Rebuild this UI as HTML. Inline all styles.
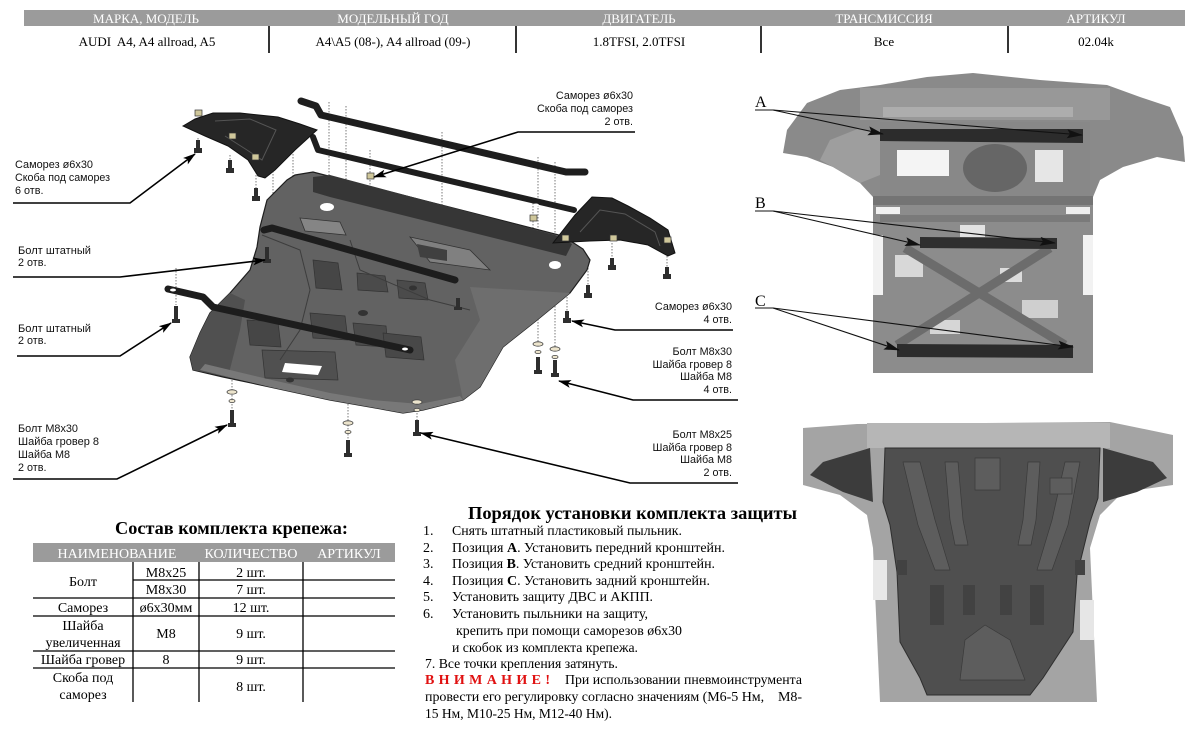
<!DOCTYPE html>
<html><head><meta charset="utf-8"><style>
html,body{margin:0;padding:0;background:#fff;}
svg{display:block;}
.s{font-family:"Liberation Serif",serif;}
.a{font-family:"Liberation Sans",sans-serif;font-size:10.8px;fill:#111;}
.d{stroke:#7a7a7a;stroke-width:1;stroke-dasharray:1.5,1.5;fill:none;}
.ld{stroke:#000;stroke-width:1.6;fill:none;}
.lp{stroke:#111;stroke-width:1.1;fill:none;}
</style></head><body>
<svg width="1200" height="732" viewBox="0 0 1200 732" xmlns="http://www.w3.org/2000/svg">
<defs>
<marker id="ar" markerUnits="userSpaceOnUse" markerWidth="13" markerHeight="8" refX="12" refY="4" orient="auto"><path d="M0,0 L13,4 L0,8 L3,4 z" fill="#000"/></marker>
<marker id="ar2" markerUnits="userSpaceOnUse" markerWidth="16" markerHeight="9" refX="15" refY="4.5" orient="auto"><path d="M0,0 L16,4.5 L0,9 L3,4.5 z" fill="#111"/></marker>
</defs>

<!-- HEADER -->
<rect x="24" y="10" width="1161" height="16" fill="#9b9b9b"/>
<g class="s" font-size="13" fill="#fff" text-anchor="middle">
<text x="146" y="23">МАРКА, МОДЕЛЬ</text>
<text x="393" y="23">МОДЕЛЬНЫЙ ГОД</text>
<text x="639" y="23">ДВИГАТЕЛЬ</text>
<text x="884" y="23">ТРАНСМИССИЯ</text>
<text x="1096" y="23">АРТИКУЛ</text>
</g>
<g class="s" font-size="13" fill="#000" text-anchor="middle">
<text x="147" y="46" xml:space="preserve">AUDI  A4, A4 allroad, A5</text>
<text x="393" y="46">A4\A5 (08-), A4 allroad (09-)</text>
<text x="639" y="46">1.8TFSI, 2.0TFSI</text>
<text x="884" y="46">Все</text>
<text x="1096" y="46">02.04k</text>
</g>
<g stroke="#000" stroke-width="1.6">
<line x1="269" y1="26" x2="269" y2="53"/>
<line x1="516" y1="26" x2="516" y2="53"/>
<line x1="761" y1="26" x2="761" y2="53"/>
<line x1="1008" y1="26" x2="1008" y2="53"/>
</g>

<!-- DOTTED FASTENER LINES -->
<g class="d">
<line x1="329" y1="102" x2="329" y2="230"/>
<line x1="346" y1="106" x2="346" y2="232"/>
<line x1="293" y1="133" x2="293" y2="178"/>
<line x1="273" y1="168" x2="273" y2="215"/>
<line x1="198" y1="138" x2="198" y2="150"/>
<line x1="230" y1="155" x2="230" y2="170"/>
<line x1="256" y1="172" x2="256" y2="195"/>
<line x1="442" y1="132" x2="442" y2="236"/>
<line x1="538" y1="157" x2="538" y2="345"/>
<line x1="555" y1="162" x2="555" y2="350"/>
<line x1="567" y1="225" x2="567" y2="312"/>
<line x1="588" y1="262" x2="588" y2="290"/>
<line x1="612" y1="243" x2="612" y2="262"/>
<line x1="667" y1="253" x2="667" y2="272"/>
<line x1="417" y1="260" x2="417" y2="420"/>
<line x1="176" y1="268" x2="176" y2="305"/>
<line x1="232" y1="293" x2="232" y2="410"/>
<line x1="348" y1="323" x2="348" y2="440"/>
<line x1="310" y1="237" x2="310" y2="300"/>
<line x1="458" y1="267" x2="458" y2="302"/>
<line x1="370" y1="150" x2="370" y2="186"/>
<line x1="533" y1="200" x2="533" y2="230"/>
</g>

<!-- UPPER BARS -->
<polyline points="301,101 316,106 321,115 566,172 585,172" stroke="#1e1e1e" stroke-width="7" fill="none" stroke-linejoin="round" stroke-linecap="round"/>
<polyline points="313,137 318,150 574,210" stroke="#1e1e1e" stroke-width="6" fill="none" stroke-linejoin="round" stroke-linecap="round"/>
<ellipse cx="400" cy="180" rx="3" ry="1.5" fill="#fff"/>
<ellipse cx="536" cy="205" rx="3" ry="1.5" fill="#fff"/>

<!-- LEFT BRACKET -->
<polygon points="183,126 195,119 213,113 240,113 278,117 300,124 317,130 295,150 275,170 265,178 258,176 248,160 228,146 205,136" fill="#262626" stroke="#111" stroke-width="1"/>
<polyline points="215,121 250,119 276,130 262,160 247,150 225,136" stroke="#555" stroke-width="1" fill="none"/>

<!-- MAIN PLATE -->
<polygon points="295,175 313,172 367,186 563,236 583,249 590,260 587,270 570,293 537,320 503,347 480,387 463,400 423,410 403,413 370,407 330,400 270,387 223,377 193,370 190,357 200,333 210,313 230,293 250,270 257,247 260,227 267,200 287,180" fill="#626262" stroke="#1e1e1e" stroke-width="1.2"/>
<polygon points="190,357 200,333 210,313 230,293 245,300 240,330 228,377 193,370" fill="#505050"/>
<polygon points="470,287 570,293 537,320 503,347 480,387 463,400 455,360 480,320" fill="#6e6e6e"/>
<polygon points="313,177 330,175 555,235 572,244 566,256 550,252 330,197 313,192" fill="#363636"/>
<polygon points="300,218 340,222 346,235 305,231" fill="#858585" stroke="#333" stroke-width="0.8"/>
<ellipse cx="327" cy="207" rx="7" ry="4" fill="#fff"/>
<ellipse cx="555" cy="265" rx="6" ry="4" fill="#fff"/>
<polygon points="410,237 470,250 490,270 430,262" fill="#808080" stroke="#333" stroke-width="0.8"/>
<polygon points="417,244 447,250 447,261 420,257" fill="#404040"/>
<polygon points="313,260 338,263 342,290 316,288" fill="#464646" stroke="#333" stroke-width="0.7"/>
<polygon points="357,273 385,276 388,292 358,290" fill="#4b4b4b" stroke="#333" stroke-width="0.7"/>
<polygon points="397,280 425,283 428,300 399,298" fill="#4b4b4b" stroke="#333" stroke-width="0.7"/>
<polygon points="247,320 278,322 281,347 250,345" fill="#464646" stroke="#333" stroke-width="0.7"/>
<polygon points="310,313 345,316 348,340 313,338" fill="#4a4a4a" stroke="#333" stroke-width="0.7"/>
<polygon points="353,323 386,326 388,347 356,345" fill="#4b4b4b" stroke="#333" stroke-width="0.7"/>
<polygon points="383,333 421,337 424,360 386,357" fill="#484848" stroke="#333" stroke-width="0.7"/>
<polygon points="262,350 335,352 338,380 265,378" fill="#505050" stroke="#333" stroke-width="0.7"/>
<polygon points="285,363 322,366 318,375 282,372" fill="#fff"/>
<polygon points="200,370 270,387 330,400 370,407 403,413 423,410 463,400 460,396 420,404 372,400 330,393 272,380 205,364" fill="#787878"/>
<ellipse cx="363" cy="313" rx="5" ry="3" fill="#333"/>
<ellipse cx="413" cy="288" rx="4" ry="2.5" fill="#333"/>
<ellipse cx="290" cy="380" rx="4" ry="2.5" fill="#333"/>
<polyline points="262,235 300,250 310,290 300,330 280,360" stroke="#3d3d3d" stroke-width="1" fill="none"/>
<polyline points="350,240 360,270 430,300 470,310" stroke="#3d3d3d" stroke-width="1" fill="none"/>

<!-- PLATE BARS -->
<polyline points="264,230 272,228 455,280" stroke="#1d1d1d" stroke-width="7" fill="none" stroke-linejoin="round" stroke-linecap="round"/>
<polyline points="168,289 203,297 213,307 410,350" stroke="#1d1d1d" stroke-width="7" fill="none" stroke-linejoin="round" stroke-linecap="round"/>
<ellipse cx="173" cy="290" rx="3" ry="1.5" fill="#fff"/>
<ellipse cx="405" cy="349" rx="3" ry="1.5" fill="#fff"/>

<!-- RIGHT BRACKET -->
<polygon points="553,243 575,215 592,197 612,198 628,206 650,218 668,230 675,253 668,256 648,245 620,240 590,241" fill="#262626" stroke="#111" stroke-width="1"/>
<polyline points="580,232 600,210 625,214 655,232 660,246" stroke="#555" stroke-width="1" fill="none"/>

<!-- CLIPS -->
<g fill="#cfc79a" stroke="#333" stroke-width="0.7">
<rect x="367" y="173" width="7" height="6"/>
<rect x="530" y="215" width="7" height="6"/>
<rect x="195" y="110" width="7" height="6"/>
<rect x="229" y="133" width="7" height="6"/>
<rect x="252" y="154" width="7" height="6"/>
<rect x="562" y="235" width="7" height="6"/>
<rect x="610" y="235" width="7" height="6"/>
<rect x="664" y="237" width="7" height="6"/>
</g>

<!-- BOLTS / SCREWS -->
<g fill="#2e2e2e">
<rect x="196" y="140" width="4" height="10"/><rect x="194" y="148" width="8" height="5"/>
<rect x="228" y="160" width="4" height="10"/><rect x="226" y="168" width="8" height="5"/>
<rect x="254" y="188" width="4" height="10"/><rect x="252" y="196" width="8" height="5"/>
<rect x="174" y="306" width="4" height="14"/><rect x="172" y="319" width="8" height="4"/>
<rect x="265" y="247" width="4" height="13"/><rect x="263" y="259" width="8" height="4"/>
<rect x="230" y="410" width="4" height="14"/><rect x="228" y="423" width="8" height="4"/>
<rect x="346" y="440" width="4" height="14"/><rect x="344" y="453" width="8" height="4"/>
<rect x="415" y="420" width="4" height="13"/><rect x="413" y="432" width="8" height="4"/>
<rect x="536" y="357" width="4" height="14"/><rect x="534" y="370" width="8" height="4"/>
<rect x="553" y="360" width="4" height="14"/><rect x="551" y="373" width="8" height="4"/>
<rect x="565" y="311" width="4" height="8"/><rect x="563" y="318" width="8" height="5"/>
<rect x="586" y="285" width="4" height="9"/><rect x="584" y="293" width="8" height="5"/>
<rect x="610" y="258" width="4" height="8"/><rect x="608" y="265" width="8" height="5"/>
<rect x="665" y="267" width="4" height="8"/><rect x="663" y="274" width="8" height="5"/>
<rect x="456" y="298" width="4" height="10"/><rect x="454" y="307" width="8" height="3"/>
</g>
<g fill="#ece4cc" stroke="#444" stroke-width="0.8">
<ellipse cx="232" cy="392" rx="5" ry="2.2"/><ellipse cx="232" cy="401" rx="3" ry="1.6"/>
<ellipse cx="348" cy="423" rx="5" ry="2.2"/><ellipse cx="348" cy="432" rx="3" ry="1.6"/>
<ellipse cx="417" cy="402" rx="5" ry="2.2"/><ellipse cx="417" cy="410" rx="3" ry="1.6"/>
<ellipse cx="538" cy="344" rx="5" ry="2.2"/><ellipse cx="538" cy="352" rx="3" ry="1.6"/>
<ellipse cx="555" cy="349" rx="5" ry="2.2"/><ellipse cx="555" cy="357" rx="3" ry="1.6"/>
</g>

<!-- LEADER LINES -->
<polyline class="ld" points="13,203 130,203 195,154" marker-end="url(#ar)"/>
<polyline class="ld" points="13,277 120,277 265,260" marker-end="url(#ar)"/>
<polyline class="ld" points="17,356 120,356 171,323" marker-end="url(#ar)"/>
<polyline class="ld" points="13,479 117,479 227,425" marker-end="url(#ar)"/>
<polyline class="ld" points="635,132 518,132 374,177" marker-end="url(#ar)"/>
<polyline class="ld" points="733,330 615,330 572,321" marker-end="url(#ar)"/>
<polyline class="ld" points="738,400 633,400 559,381" marker-end="url(#ar)"/>
<polyline class="ld" points="738,483 630,483 421,433" marker-end="url(#ar)"/>

<!-- LEFT LABELS -->
<text class="a" x="15" y="168" textLength="78" lengthAdjust="spacingAndGlyphs">Саморез ø6x30</text>
<text class="a" x="15" y="181" textLength="95" lengthAdjust="spacingAndGlyphs">Скоба под саморез</text>
<text class="a" x="15" y="194">6 отв.</text>
<text class="a" x="18" y="254" textLength="73" lengthAdjust="spacingAndGlyphs">Болт штатный</text>
<text class="a" x="18" y="266">2 отв.</text>
<text class="a" x="18" y="332" textLength="73" lengthAdjust="spacingAndGlyphs">Болт штатный</text>
<text class="a" x="18" y="344">2 отв.</text>
<text class="a" x="18" y="432" textLength="60" lengthAdjust="spacingAndGlyphs">Болт M8x30</text>
<text class="a" x="18" y="445" textLength="81" lengthAdjust="spacingAndGlyphs">Шайба гровер 8</text>
<text class="a" x="18" y="458" textLength="52" lengthAdjust="spacingAndGlyphs">Шайба M8</text>
<text class="a" x="18" y="471">2 отв.</text>

<!-- RIGHT LABELS -->
<g class="a" text-anchor="end">
<text x="633" y="99">Саморез ø6x30</text>
<text x="633" y="112">Скоба под саморез</text>
<text x="633" y="125">2 отв.</text>
<text x="732" y="310">Саморез ø6x30</text>
<text x="732" y="323">4 отв.</text>
<text x="732" y="355">Болт M8x30</text>
<text x="732" y="368">Шайба гровер 8</text>
<text x="732" y="380">Шайба M8</text>
<text x="732" y="393">4 отв.</text>
<text x="732" y="438">Болт M8x25</text>
<text x="732" y="451">Шайба гровер 8</text>
<text x="732" y="463">Шайба M8</text>
<text x="732" y="476">2 отв.</text>
</g>

<!-- TOP RIGHT PHOTO -->
<polygon points="783,153 787,130 807,103 840,90 880,85 927,77 973,73 1040,80 1107,85 1140,97 1170,107 1183,137 1185,162 1157,157 1123,167 1100,180 1093,197 873,197 860,183 833,167 807,157" fill="#8a8a8a"/>
<polygon points="860,88 1110,88 1110,120 860,120" fill="#989898"/>
<rect x="883" y="107" width="190" height="10" fill="#adadad"/>
<polygon points="820,160 830,140 860,128 880,135 880,175 860,183 833,167" fill="#9e9e9e"/>
<rect x="880" y="122" width="210" height="75" fill="#888"/>
<rect x="897" y="150" width="52" height="26" fill="#f4f4f4"/>
<rect x="1035" y="150" width="28" height="32" fill="#e6e6e6"/>
<ellipse cx="995" cy="168" rx="32" ry="24" fill="#666"/>
<rect x="873" y="196" width="220" height="177" fill="#8c8c8c"/>
<rect x="873" y="196" width="220" height="9" fill="#747474"/>
<rect x="880" y="215" width="210" height="7" fill="#7a7a7a"/>
<rect x="876" y="207" width="24" height="7" fill="#f0f0f0"/>
<rect x="1066" y="207" width="24" height="7" fill="#eeeeee"/>
<rect x="895" y="255" width="28" height="22" fill="#d8d8d8"/>
<rect x="1022" y="300" width="36" height="18" fill="#cfcfcf"/>
<rect x="930" y="320" width="30" height="14" fill="#d6d6d6"/>
<rect x="873" y="235" width="10" height="60" fill="#f2f2f2"/>
<rect x="1083" y="235" width="10" height="60" fill="#f2f2f2"/>
<rect x="960" y="225" width="25" height="12" fill="#e2e2e2"/>
<rect x="1000" y="268" width="22" height="14" fill="#dcdcdc"/>
<line x1="905" y1="248" x2="1065" y2="345" stroke="#6c6c6c" stroke-width="9"/>
<line x1="1050" y1="248" x2="897" y2="345" stroke="#6c6c6c" stroke-width="9"/>
<polygon points="880,129 1083,129 1083,143 880,141" fill="#2c2c2c"/>
<polygon points="920,237 1057,238 1057,249 920,248" fill="#2f2f2f"/>
<polygon points="897,344 1073,345 1073,358 897,357" fill="#2c2c2c"/>
<g class="s" font-size="16" fill="#000">
<text x="755" y="107">A</text>
<text x="755" y="208">B</text>
<text x="755" y="306">C</text>
</g>
<polyline class="lp" points="755,110 773,110 883,134" marker-end="url(#ar2)"/>
<line class="lp" x1="773" y1="110" x2="1082" y2="135" marker-end="url(#ar2)"/>
<polyline class="lp" points="755,211 773,211 920,245" marker-end="url(#ar2)"/>
<line class="lp" x1="773" y1="211" x2="1055" y2="243" marker-end="url(#ar2)"/>
<polyline class="lp" points="755,308 773,308 899,350" marker-end="url(#ar2)"/>
<line class="lp" x1="773" y1="308" x2="1073" y2="347" marker-end="url(#ar2)"/>

<!-- BOTTOM RIGHT PHOTO -->
<polygon points="803,428 857,424 1110,422 1173,435 1173,485 1123,492 1100,515 1090,548 1097,702 880,702 873,548 867,515 840,495 803,485" fill="#a4a4a4"/>
<rect x="867" y="423" width="243" height="25" fill="#b6b6b6"/>
<rect x="873" y="560" width="14" height="40" fill="#e8e8e8"/>
<rect x="1080" y="600" width="14" height="40" fill="#e6e6e6"/>
<polygon points="810,475 823,462 870,448 873,502 843,492" fill="#3c3c3c"/>
<polygon points="1103,448 1153,462 1167,478 1137,492 1103,502" fill="#3c3c3c"/>
<polygon points="885,448 1100,448 1098,498 1090,522 1077,575 1073,632 1043,678 1030,695 927,695 920,678 900,642 897,572 890,525 883,502" fill="#4f4f4f" stroke="#2e2e2e" stroke-width="1"/>
<g fill="#5d5d5d" stroke="#3a3a3a" stroke-width="0.7">
<polygon points="903,462 920,462 935,520 950,570 935,570 918,525"/>
<polygon points="945,462 958,462 963,520 968,545 955,545 950,520"/>
<polygon points="975,458 1000,458 1000,490 975,490"/>
<polygon points="1040,462 1028,462 1023,520 1018,545 1031,545 1036,520"/>
<polygon points="1080,462 1065,462 1052,520 1037,570 1052,570 1068,525"/>
<polygon points="985,625 1010,640 1025,680 960,680 965,640"/>
<rect x="1050" y="478" width="22" height="16"/>
</g>
<g fill="#424242">
<rect x="930" y="585" width="14" height="40"/>
<rect x="963" y="585" width="12" height="30"/>
<rect x="1000" y="585" width="12" height="30"/>
<rect x="1030" y="585" width="14" height="40"/>
<rect x="897" y="560" width="10" height="15"/>
<rect x="1075" y="560" width="10" height="15"/>
</g>

<!-- FASTENER TABLE -->
<text class="s" x="115" y="534" font-size="18" font-weight="bold" textLength="233" lengthAdjust="spacingAndGlyphs">Состав комплекта крепежа:</text>
<rect x="33" y="543" width="362" height="19" fill="#9b9b9b"/>
<g class="s" font-size="14" fill="#fff" text-anchor="middle">
<text x="117" y="558">НАИМЕНОВАНИЕ</text>
<text x="251" y="558">КОЛИЧЕСТВО</text>
<text x="349" y="558">АРТИКУЛ</text>
</g>
<g stroke="#000" stroke-width="1.3">
<line x1="133" y1="562" x2="133" y2="702"/>
<line x1="199" y1="562" x2="199" y2="702"/>
<line x1="303" y1="562" x2="303" y2="702"/>
<line x1="133" y1="580" x2="395" y2="580"/>
<line x1="33" y1="598" x2="395" y2="598"/>
<line x1="33" y1="616" x2="395" y2="616"/>
<line x1="33" y1="651" x2="395" y2="651"/>
<line x1="33" y1="668" x2="395" y2="668"/>
</g>
<g class="s" font-size="14" fill="#000" text-anchor="middle">
<text x="83" y="586">Болт</text>
<text x="166" y="577">M8x25</text>
<text x="166" y="594">M8x30</text>
<text x="251" y="577">2 шт.</text>
<text x="251" y="594">7 шт.</text>
<text x="83" y="612">Саморез</text>
<text x="166" y="612">ø6x30мм</text>
<text x="251" y="612">12 шт.</text>
<text x="83" y="630">Шайба</text>
<text x="83" y="647">увеличенная</text>
<text x="166" y="638">M8</text>
<text x="251" y="638">9 шт.</text>
<text x="83" y="664">Шайба гровер</text>
<text x="166" y="664">8</text>
<text x="251" y="664">9 шт.</text>
<text x="83" y="682">Скоба под</text>
<text x="83" y="699">саморез</text>
<text x="251" y="691">8 шт.</text>
</g>

<!-- INSTRUCTIONS -->
<text class="s" x="468" y="519" font-size="18" font-weight="bold" textLength="329" lengthAdjust="spacingAndGlyphs">Порядок установки комплекта защиты</text>
<g class="s" font-size="14" fill="#000">
<text x="423" y="535">1.</text>
<text x="452" y="535" textLength="230" lengthAdjust="spacingAndGlyphs">Снять штатный пластиковый пыльник.</text>
<text x="423" y="552">2.</text>
<text x="452" y="552" textLength="273" lengthAdjust="spacingAndGlyphs">Позиция <tspan font-weight="bold">А</tspan>. Установить передний кронштейн.</text>
<text x="423" y="568">3.</text>
<text x="452" y="568" textLength="263" lengthAdjust="spacingAndGlyphs">Позиция <tspan font-weight="bold">В</tspan>. Установить средний кронштейн.</text>
<text x="423" y="585">4.</text>
<text x="452" y="585" textLength="258" lengthAdjust="spacingAndGlyphs">Позиция <tspan font-weight="bold">С</tspan>. Установить задний кронштейн.</text>
<text x="423" y="601">5.</text>
<text x="452" y="601" textLength="201" lengthAdjust="spacingAndGlyphs">Установить защиту ДВС и АКПП.</text>
<text x="423" y="618">6.</text>
<text x="452" y="618" textLength="196" lengthAdjust="spacingAndGlyphs">Установить пыльники на защиту,</text>
<text x="456" y="635" textLength="226" lengthAdjust="spacingAndGlyphs">крепить при помощи саморезов ø6x30</text>
<text x="452" y="652" textLength="186" lengthAdjust="spacingAndGlyphs">и скобок из комплекта крепежа.</text>
<text x="425" y="668" textLength="193" lengthAdjust="spacingAndGlyphs">7. Все точки крепления затянуть.</text>
<text x="425" y="684" fill="#e01010" font-weight="bold" textLength="125" lengthAdjust="spacing">В Н И М А Н И Е !</text>
<text x="565" y="684" textLength="237" lengthAdjust="spacingAndGlyphs">При использовании пневмоинструмента</text>
<text x="425" y="701" textLength="377" lengthAdjust="spacing" xml:space="preserve">провести его регулировку согласно значениям (М6-5 Нм,    М8-</text>
<text x="425" y="718" textLength="187" lengthAdjust="spacingAndGlyphs">15 Нм, М10-25 Нм, М12-40 Нм).</text>
</g>
</svg>
</body></html>
